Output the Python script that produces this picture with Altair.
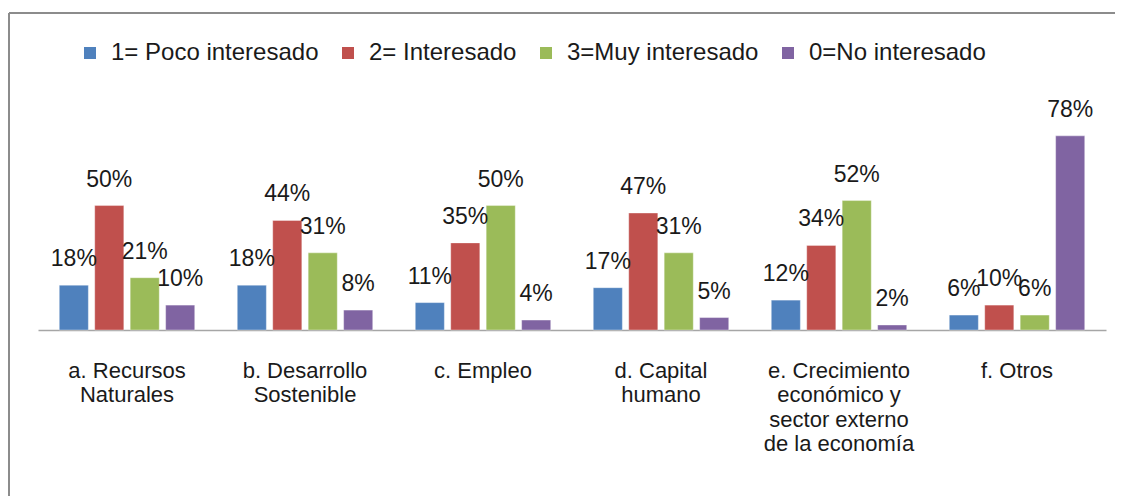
import altair as alt
import pandas as pd

categories = [
    "a. Recursos\nNaturales",
    "b. Desarrollo\nSostenible",
    "c. Empleo",
    "d. Capital\nhumano",
    "e. Crecimiento\neconómico y\nsector externo\nde la economía",
    "f. Otros",
]
series = ["\u00a0\u00a0\u00a01= Poco interesado", "2= Interesado", "3=Muy interesado", "0=No interesado"]
poco = [18, 18, 11, 17, 12, 6]
interesado = [50, 44, 35, 47, 34, 10]
muy = [21, 31, 50, 31, 52, 6]
no_int = [10, 8, 4, 5, 2, 78]
colors = ["#4F81BD", "#C0504D", "#9BBB59", "#8064A2"]

rows = []
for s, vals in zip(series, [poco, interesado, muy, no_int]):
    for c, v in zip(categories, vals):
        rows.append({"cat": c, "serie": s, "v": v})
df = pd.DataFrame(rows)

FONT = "Liberation Sans"

x = alt.X("cat:N", sort=categories, title=None,
          scale=alt.Scale(paddingInner=0, paddingOuter=0),
          axis=alt.Axis(labelExpr="split(datum.label, '\\n')", labelAngle=0,
                        labelFont=FONT, labelFontSize=22, labelColor="#1a1a1a",
                        labelLineHeight=24.5, labelPadding=30, ticks=False,
                        domainColor="#a6a6a6", domainWidth=1.5, labelBaseline="top"))
xoff = alt.XOffset("serie:N", sort=series,
                   scale=alt.Scale(paddingInner=0.18, paddingOuter=0.6))
y = alt.Y("v:Q", scale=alt.Scale(domain=[0, 90]), axis=None)

base = alt.Chart(df)
bars = base.mark_bar(stroke="white", strokeWidth=0.6, strokeOpacity=0.6).encode(
    x=x, xOffset=xoff, y=y,
    color=alt.Color("serie:N", sort=series,
                    scale=alt.Scale(domain=series, range=colors),
                    legend=alt.Legend(orient="none", direction="horizontal", title=None,
                                      legendX=40, legendY=-65,
                                      symbolType="square", symbolSize=144,
                                      symbolStrokeWidth=0, labelFont=FONT,
                                      labelFontSize=24, labelColor="#1a1a1a",
                                      labelOffset=9, columnPadding=17, labelLimit=400)),
)
labels = base.transform_calculate(lab="datum.v + '%'").mark_text(
    font=FONT, fontSize=23, color="#1a1a1a", baseline="middle", dy=-26
).encode(x=x, xOffset=xoff, y=y, text="lab:N")

one = alt.Chart(pd.DataFrame({"a": [0]}))
frame_top = one.mark_rule(color="#8c8c8c", strokeWidth=2).encode(
    x=alt.value(-29), x2=alt.value(1100), y=alt.value(-93))
frame_left = one.mark_rule(color="#8c8c8c", strokeWidth=2).encode(
    x=alt.value(-29), y=alt.value(-93), y2=alt.value(420))

chart = alt.layer(frame_top, frame_left, bars, labels).properties(
    width=1068, height=224,
    autosize=alt.AutoSizeParams(type="none"),
    padding={"left": 30, "top": 98, "right": 9, "bottom": 166},
).configure_view(stroke=None)

chart.save("out.html", embed_options={"renderer": "svg", "actions": False})
